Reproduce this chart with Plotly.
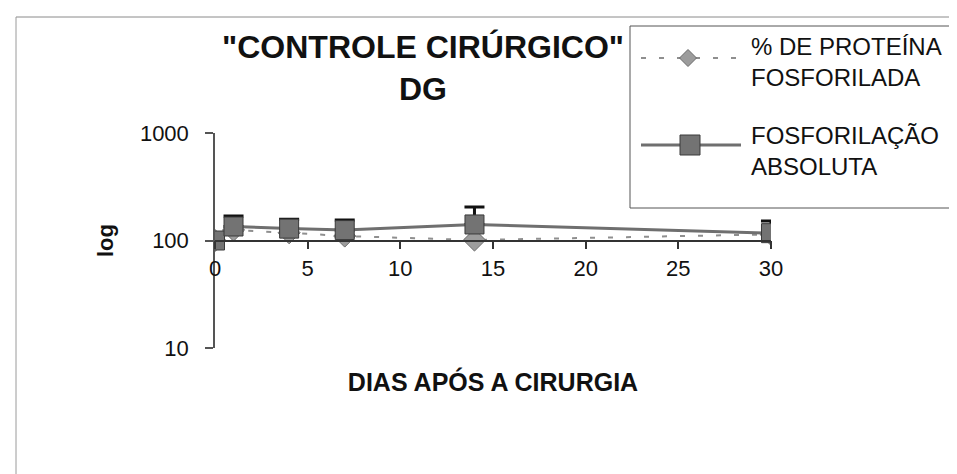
import plotly.graph_objects as go

# ---- data ----
dias = [0, 1, 4, 7, 14, 30]
proteina_fosforilada = [100, 125, 118, 110, 101, 114]
fosforilacao_absoluta = [100, 135, 129, 125, 141, 117]
erro_absoluta = [0, 34, 29, 30, 64, 35]
x_ticks = [0, 5, 10, 15, 20, 25, 30]
y_ticks = [10, 100, 1000]
y_tick_labels = ["10", "100", "1000"]

serie1_nome = "% DE PROTEÍNA<br>FOSFORILADA"
serie2_nome = "FOSFORILAÇÃO<br>ABSOLUTA"

FONT = "Liberation Sans, Arial, sans-serif"
W, H = 957, 474
L, R, T, B = 207, 957 - 763, 125, 474 - 340
PW, PH = W - L - R, H - T - B


def px(xp):
    return (xp - L) / PW


def py(yp):
    return (H - B - yp) / PH


fig = go.Figure()

fig.add_trace(go.Scatter(
    x=dias, y=proteina_fosforilada, name="% DE PROTEÍNA FOSFORILADA",
    mode="lines+markers",
    line=dict(color="#8f8f8f", width=2, dash="5px,13px"),
    marker=dict(symbol="diamond", size=17, color="#9c9c9c",
                line=dict(color="#6a6a6a", width=1)),
    showlegend=False,
))

fig.add_trace(go.Scatter(
    x=dias, y=fosforilacao_absoluta, name="FOSFORILAÇÃO ABSOLUTA",
    mode="lines+markers",
    line=dict(color="#6f6f6f", width=3),
    marker=dict(symbol="square", size=19, color="#737373",
                line=dict(color="#3a3a3a", width=1)),
    error_y=dict(type="data", symmetric=False, array=erro_absoluta,
                 arrayminus=[0] * len(erro_absoluta), color="#111111",
                 thickness=3, width=10),
    showlegend=False,
))

shapes = []
annotations = []

# figure frame (scanned border)
shapes.append(dict(type="line", xref="paper", yref="paper",
                   x0=px(8), x1=px(957), y0=py(9), y1=py(9),
                   line=dict(color="#8a8a8a", width=1)))
shapes.append(dict(type="line", xref="paper", yref="paper",
                   x0=px(8), x1=px(8), y0=py(9), y1=py(474),
                   line=dict(color="#9a9a9a", width=1)))

# manual legend box
shapes.append(dict(type="rect", xref="paper", yref="paper",
                   x0=px(622), x1=px(953), y0=py(18), y1=py(200),
                   line=dict(color="#555555", width=1), fillcolor="white"))
# entry 1: dashed line + diamond
shapes.append(dict(type="line", xref="paper", yref="paper",
                   x0=px(633), x1=px(733), y0=py(50), y1=py(50),
                   line=dict(color="#8f8f8f", width=2, dash="5px,13px")))
dcx, dcy, dh = 680, 50, 8.5
shapes.append(dict(type="path", xref="paper", yref="paper",
                   path=f"M{px(dcx)},{py(dcy - dh)} L{px(dcx + dh)},{py(dcy)} "
                        f"L{px(dcx)},{py(dcy + dh)} L{px(dcx - dh)},{py(dcy)} Z",
                   fillcolor="#9c9c9c", line=dict(color="#6a6a6a", width=1)))
# entry 2: solid line + square
shapes.append(dict(type="line", xref="paper", yref="paper",
                   x0=px(633), x1=px(733), y0=py(137), y1=py(137),
                   line=dict(color="#6f6f6f", width=3)))
shapes.append(dict(type="rect", xref="paper", yref="paper",
                   x0=px(672), x1=px(692), y0=py(127), y1=py(147),
                   fillcolor="#737373", line=dict(color="#3a3a3a", width=1)))

annotations.append(dict(xref="paper", yref="paper", x=px(741), y=py(54),
                        xanchor="left", yanchor="middle", align="left",
                        showarrow=False, text=serie1_nome,
                        font=dict(family=FONT, size=24, color="#111111")))
annotations.append(dict(xref="paper", yref="paper", x=px(741), y=py(143),
                        xanchor="left", yanchor="middle", align="left",
                        showarrow=False, text=serie2_nome,
                        font=dict(family=FONT, size=24, color="#111111")))

fig.update_layout(
    width=W, height=H,
    margin=dict(l=L, r=R, t=T, b=B, autoexpand=False),
    paper_bgcolor="white", plot_bgcolor="white",
    font=dict(family=FONT, color="#111111"),
    title=dict(text='<b>"CONTROLE CIRÚRGICO"<br>DG</b>',
               xref="container", yref="container",
               x=415 / W, xanchor="center",
               y=1 - 50 / H, yanchor="middle",
               font=dict(family=FONT, size=32, color="#111111")),
    xaxis=dict(range=[0, 30], tickvals=x_ticks, ticktext=[str(v) for v in x_ticks],
               anchor="free", position=0.5,
               showline=True, linecolor="#333333", linewidth=1.5,
               ticks="outside", ticklen=8, tickwidth=1.5, tickcolor="#333333",
               ticklabelstandoff=0,
               showgrid=False, zeroline=False,
               tickfont=dict(family=FONT, size=22, color="#111111"),
               title=dict(text="<b>DIAS APÓS A CIRURGIA</b>", standoff=93,
                          font=dict(family=FONT, size=25, color="#111111"))),
    yaxis=dict(type="log", range=[1, 3], tickvals=y_ticks, ticktext=y_tick_labels,
               showline=True, linecolor="#555555", linewidth=1.5,
               ticks="outside", ticklen=8, tickwidth=1.5, tickcolor="#555555",
               ticklabelstandoff=12,
               showgrid=False, zeroline=False,
               tickfont=dict(family=FONT, size=22, color="#111111"),
               title=dict(text="<b>log</b>", standoff=20,
                          font=dict(family=FONT, size=22, color="#111111"))),
    shapes=shapes,
    annotations=annotations,
)

fig.write_html("out.html")
